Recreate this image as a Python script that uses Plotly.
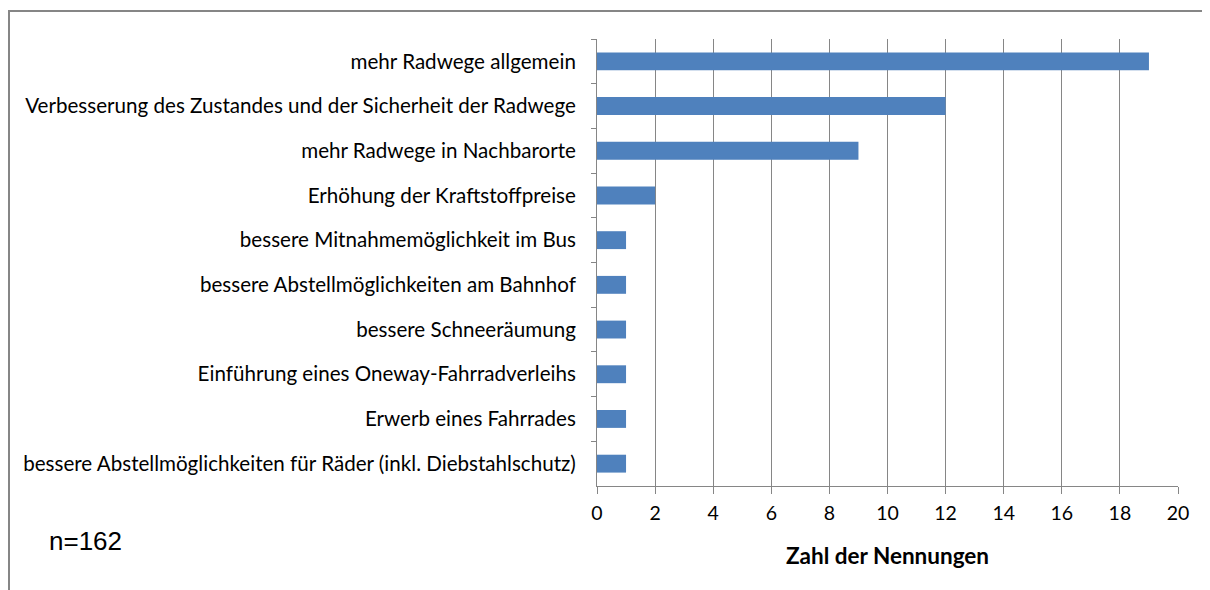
import plotly.graph_objects as go

categories = [
    "mehr Radwege allgemein",
    "Verbesserung des Zustandes und der Sicherheit der Radwege",
    "mehr Radwege in Nachbarorte",
    "Erhöhung der Kraftstoffpreise",
    "bessere Mitnahmemöglichkeit im Bus",
    "bessere Abstellmöglichkeiten am Bahnhof",
    "bessere Schneeräumung",
    "Einführung eines Oneway-Fahrradverleihs",
    "Erwerb eines Fahrrades",
    "bessere Abstellmöglichkeiten für Räder (inkl. Diebstahlschutz)",
]
values = [19, 12, 9, 2, 1, 1, 1, 1, 1, 1]
x_ticks = [0, 2, 4, 6, 8, 10, 12, 14, 16, 18, 20]
x_title = "Zahl der Nennungen"
note = "n=162"

# page body has an 8px margin; figure coordinates = reference - 8
OFF = 8
W, H = 1210 - OFF, 590 - OFF
L, R, T, B = 597 - OFF, 1178 - OFF, 39 - OFF, 486 - OFF
grid = "#868686"

def px_x(p):
    return (p - OFF - L) / (R - L)

def px_y(p):
    return (B - (p - OFF)) / (B - T)

fig = go.Figure(go.Bar(
    x=values, y=categories, orientation="h",
    marker=dict(color="#4F81BD", line=dict(width=0)),
    width=0.4,
))

fig.update_layout(
    width=W, height=H,
    margin=dict(l=L, r=W - R, t=T, b=H - B, pad=0),
    paper_bgcolor="white", plot_bgcolor="white",
    showlegend=False,
    font=dict(family="Lato, Calibri, sans-serif", color="#000000"),
    xaxis=dict(
        range=[0, 20], tickvals=x_ticks, ticktext=[str(v) for v in x_ticks],
        showgrid=True, gridcolor=grid, gridwidth=1,
        showline=True, linecolor=grid, linewidth=1,
        ticks="outside", ticklen=7, tickcolor=grid,
        tickfont=dict(size=19.5, family="Lato, sans-serif"),
        ticklabelstandoff=3,
        zeroline=False,
    ),
    yaxis=dict(
        autorange="reversed", type="category",
        showline=True, linecolor=grid, linewidth=1,
        ticks="outside", ticklen=5, tickcolor=grid, tickson="boundaries",
        tickfont=dict(size=20.6, family="Lato, sans-serif"),
        ticklabelstandoff=16,
        showgrid=False,
    ),
    shapes=[
        dict(type="line", xref="paper", yref="paper",
             x0=px_x(8), x1=px_x(1215), y0=px_y(11), y1=px_y(11),
             line=dict(color=grid, width=2)),
        dict(type="line", xref="paper", yref="paper",
             x0=px_x(9), x1=px_x(9), y0=px_y(11), y1=px_y(595),
             line=dict(color=grid, width=2)),
    ],
    annotations=[
        dict(text=note, xref="paper", yref="paper", x=px_x(47), y=px_y(541),
             xanchor="left", yanchor="middle", showarrow=False,
             font=dict(size=26, family="Liberation Sans, Arial, sans-serif", color="#000000")),
        dict(text="<b>" + x_title + "</b>", xref="paper", yref="paper",
             x=px_x(887), y=px_y(555), xanchor="center", yanchor="middle",
             showarrow=False,
             font=dict(size=22.5, family="Lato, sans-serif", color="#000000")),
    ],
)

fig.write_html("out.html")
